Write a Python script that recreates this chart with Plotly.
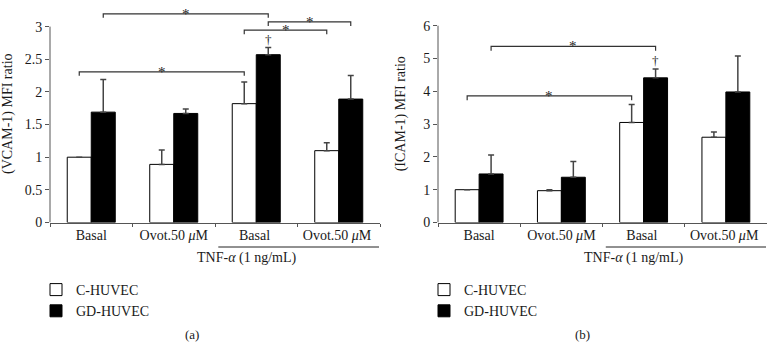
import plotly.graph_objects as go

FONT = "Liberation Serif"

categories = ["Basal", "Ovot.50 <i>μ</i>M", "Basal ", "Ovot.50 <i>μ</i>M "]
series_names = ["C-HUVEC", "GD-HUVEC"]

# Panel (a) VCAM-1
vcam_c = [1.00, 0.89, 1.82, 1.10]
vcam_gd = [1.69, 1.67, 2.57, 1.89]
vcam_c_err = [0.00, 0.22, 0.33, 0.12]
vcam_gd_err = [0.50, 0.07, 0.11, 0.36]

# Panel (b) ICAM-1
icam_c = [1.00, 0.97, 3.05, 2.60]
icam_gd = [1.48, 1.38, 4.41, 3.98]
icam_c_err = [0.00, 0.03, 0.55, 0.16]
icam_gd_err = [0.58, 0.48, 0.27, 1.10]

# significance brackets: (category0, series0, category1, series1, y)
brackets_a = [(0, 1, 2, 1, 3.196), (2, 1, 3, 1, 3.073), (2, 0, 3, 0, 2.945), (0, 0, 2, 0, 2.308)]
brackets_b = [(0, 1, 2, 1, 5.37), (0, 0, 2, 0, 3.86)]
dagger_a = (2, 1, 2.81)
dagger_b = (2, 1, 4.93)

yticks_a = [0, 0.5, 1, 1.5, 2, 2.5, 3]
yticks_b = [0, 1, 2, 3, 4, 5, 6]

BARGAP = 0.418
OFF = (1 - BARGAP) / 4  # half bar width in category units

fig = go.Figure()


def add_panel(cval, gval, cerr, gerr, xa, ya, legend):
    for name, vals, errs, fill in [(series_names[0], cval, cerr, "white"),
                                   (series_names[1], gval, gerr, "black")]:
        fig.add_trace(go.Bar(
            x=categories, y=vals, name=name, xaxis=xa, yaxis=ya, legend=legend,
            marker=dict(color=fill, line=dict(color="black", width=1)),
            error_y=dict(type="data", symmetric=False, array=errs,
                         arrayminus=[0] * len(errs), color="#444", thickness=1.5, width=3),
        ))


add_panel(vcam_c, vcam_gd, vcam_c_err, vcam_gd_err, "x", "y", "legend")
add_panel(icam_c, icam_gd, icam_c_err, icam_gd_err, "x2", "y2", "legend2")

ydom = [(361 - 222.5) / 361, (361 - 5) / 361]
axis_font = dict(family=FONT, size=14, color="#1a1a1a")

common_x = dict(type="category", range=[-0.5, 3.5], showline=True, linecolor="#555",
                linewidth=1, ticks="outside", ticklen=3, tickcolor="#555",
                tickson="boundaries", tickfont=axis_font, showgrid=False, zeroline=False,
                fixedrange=True, automargin=False)
fig.update_layout(
    template="none",
    xaxis=dict(domain=[50 / 775, 380 / 775], anchor="y", **common_x),
    xaxis2=dict(domain=[438 / 775, 767 / 775], anchor="y2", **common_x),
    yaxis=dict(domain=ydom, anchor="x", range=[0, 217.5 / 65.3], tickvals=yticks_a,
               ticktext=[f"{v:g}" for v in yticks_a], ticks="outside", ticklen=4,
               tickcolor="#555", showline=False, showgrid=False, zeroline=False,
               tickfont=axis_font, automargin=False, fixedrange=True,
               title=dict(text="(VCAM-1) MFI ratio", font=dict(family=FONT, size=14, color="#1a1a1a"),
                          standoff=14)),
    yaxis2=dict(domain=ydom, anchor="x2", range=[0, 217.5 / 32.8], tickvals=yticks_b,
                ticktext=[f"{v:g}" for v in yticks_b], ticks="outside", ticklen=4,
                tickcolor="#555", showline=False, showgrid=False, zeroline=False,
                tickfont=axis_font, automargin=False, fixedrange=True,
                title=dict(text="(ICAM-1) MFI ratio", font=dict(family=FONT, size=14, color="#1a1a1a"),
                           standoff=14)),
    barmode="group", bargap=BARGAP, bargroupgap=0,
    width=775, height=361, margin=dict(l=0, r=0, t=0, b=0, pad=0),
    paper_bgcolor="white", plot_bgcolor="white",
    font=dict(family=FONT, size=13, color="#1a1a1a"),
    legend=dict(x=36 / 775, y=1 - 274 / 361, xanchor="left", yanchor="top",
                font=dict(family=FONT, size=14, color="#1a1a1a"), tracegroupgap=0,
                bgcolor="rgba(0,0,0,0)", borderwidth=0),
    legend2=dict(x=424 / 775, y=1 - 274 / 361, xanchor="left", yanchor="top",
                 font=dict(family=FONT, size=14, color="#1a1a1a"), tracegroupgap=0,
                 bgcolor="rgba(0,0,0,0)", borderwidth=0),
    showlegend=True,
)

shapes = []
annots = []


def bar_x(cat, ser):
    return cat + (-OFF if ser == 0 else OFF)


def panel_extras(xr, yr, ymax, brackets, dagger, tick_len, label):
    # y axis line only up to the top tick
    shapes.append(dict(type="line", xref=f"{xr} domain", yref=yr, x0=0, x1=0, y0=0, y1=ymax,
                       line=dict(color="#555", width=1)))
    for c0, s0, c1, s1, yv in brackets:
        xa, xb = bar_x(c0, s0), bar_x(c1, s1)
        shapes.append(dict(type="path", xref=xr, yref=yr,
                           path=f"M{xa},{yv - tick_len} L{xa},{yv} L{xb},{yv} L{xb},{yv - tick_len}",
                           line=dict(color="#333", width=1.2)))
        annots.append(dict(x=(xa + xb) / 2, y=yv, xref=xr, yref=yr, text="*", showarrow=False,
                           yanchor="middle", font=dict(family=FONT, size=15, color="#222")))
    c, s, yv = dagger
    annots.append(dict(x=bar_x(c, s), y=yv, xref=xr, yref=yr, text="†", showarrow=False,
                       yanchor="middle", font=dict(family=FONT, size=13, color="#222")))
    # TNF group underline + label
    shapes.append(dict(type="line", xref=f"{xr} domain", yref=f"{yr} domain",
                       x0=0.51, x1=0.997, y0=-24.5 / 217.5, y1=-24.5 / 217.5,
                       line=dict(color="#222", width=1)))
    annots.append(dict(x=0.7515, y=-36 / 217.5, xref=f"{xr} domain", yref=f"{yr} domain",
                       text="TNF-<i>α</i> (1 ng/mL)", showarrow=False, yanchor="middle",
                       font=dict(family=FONT, size=14, color="#1a1a1a")))
    annots.append(dict(x=label[1], y=1 - 334 / 361, xref="paper", yref="paper", text=label[0],
                       showarrow=False, yanchor="middle", xanchor="center",
                       font=dict(family=FONT, size=13, color="#1a1a1a")))


panel_extras("x", "y", yticks_a[-1], brackets_a, dagger_a, 0.062, ("(a)", 192 / 775))
panel_extras("x2", "y2", yticks_b[-1], brackets_b, dagger_b, 0.135, ("(b)", 582 / 775))

fig.update_layout(shapes=shapes, annotations=annots)
fig.write_html("out.html", config={"displayModeBar": False, "staticPlot": False},
               post_script="document.body.style.margin='0';document.body.style.padding='0';")
